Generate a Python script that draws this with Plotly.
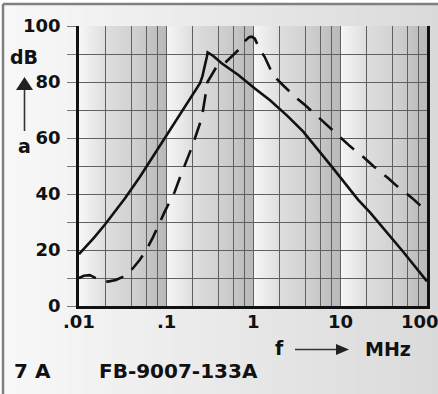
import numpy as np
import plotly.graph_objects as go

W, H = 438, 394

# ---------------- data ----------------
solid_f = [0.01, 0.015, 0.02, 0.0338, 0.05, 0.1, 0.165, 0.215, 0.246, 0.262, 0.28, 0.295, 0.301,
           0.35, 0.436, 0.678, 1.05, 1.57, 2.5, 3.78, 8.04, 16.1, 22.1, 53.5, 100]
solid_db = [18.5, 24.5, 29.2, 38.5, 46.1, 60.7, 71.2, 76.8, 79.6, 82.0, 85.5, 89.0, 90.6,
            89.3, 86.7, 82.5, 77.7, 73.5, 67.8, 62.3, 49.8, 38.0, 33.4, 19.3, 8.8]

dashed_f = [0.01, 0.0114, 0.0133, 0.0153, 0.0175, 0.0215, 0.0266, 0.035, 0.0417, 0.05,
            0.0593, 0.0707, 0.0846, 0.0967, 0.126, 0.145, 0.2, 0.257, 0.28, 0.30, 0.38,
            0.476, 0.71, 0.8, 0.9, 0.97, 1.05, 1.12, 1.2, 1.36, 1.7, 2.14, 3.18, 3.96,
            5.89, 7.34, 10.5, 13.0, 19.4, 24.1, 35.9, 44.8, 66.6, 100]
dashed_db = [10.0, 10.8, 11.0, 10.2, 9.2, 8.7, 9.3, 11.0, 13.5, 16.5,
             20.0, 24.5, 30.0, 33.7, 40.8, 46.0, 57.0, 67.0, 74.0, 80.0, 85.4,
             86.8, 92.0, 94.5, 96.0, 96.2, 95.5, 93.5, 91.5, 89.0, 82.5, 79.3, 74.2, 71.8,
             67.0, 64.3, 59.9, 57.1, 52.7, 50.0, 45.6, 42.9, 38.7, 33.7]

x_tick_vals = [0.01, 0.1, 1, 10, 100]
x_tick_text = [".01", ".1", "1", "10", "100"]
x_minor_mult = [2, 4, 6, 8]
y_tick_vals = [0, 20, 40, 60, 80, 100]
y_tick_text = ["0", "20", "40", "60", "80", "100"]

# ---------------- layout helpers ----------------
L, R, T, B = 79, 427, 26, 306


def px(x):
    return x / W


def py(y):
    return 1 - y / H


FONT = "DejaVu Sans"
INK = "#111111"
GRID = "#606060"

fig = go.Figure()
fig.add_trace(go.Scatter(x=solid_f, y=solid_db, mode="lines",
                         line=dict(color=INK, width=2.6), showlegend=False))
fig.add_trace(go.Scatter(x=dashed_f, y=dashed_db, mode="lines",
                         line=dict(color=INK, width=2.6, dash="18px,11px"), showlegend=False))

shapes = []
# page background gradient (inside the frame)
n = 80
x0p = 3
for i in range(n):
    a = x0p + (W - x0p) * i / n
    b = x0p + (W - x0p) * (i + 1) / n + 0.8
    t = i / (n - 1)
    v = int(round(248 - (248 - 218) * t))
    shapes.append(dict(type="rect", xref="paper", yref="paper", x0=px(a), x1=px(min(b, W)),
                       y0=0, y1=py(4), fillcolor=f"rgb({v},{v},{v})", line=dict(width=0),
                       layer="below"))

# per-decade shading of the plot area
ts = [0, 0.301, 0.602, 0.778, 0.903, 1.0]
vs = [247, 222, 210, 199, 189, 186]
ndec = 4
nstrip = 58
for d in range(ndec):
    for i in range(nstrip):
        t0 = i / nstrip
        t1 = (i + 1) / nstrip
        v = int(round(np.interp((t0 + t1) / 2, ts, vs)))
        shapes.append(dict(type="rect", xref="x domain", yref="y domain",
                           x0=(d + t0) / ndec, x1=min((d + t1) / ndec + 0.002, 1.0),
                           y0=0, y1=1, fillcolor=f"rgb({v},{v},{v})",
                           line=dict(width=0), layer="below"))

# outer frame (top + left)
shapes.append(dict(type="line", xref="paper", yref="paper", x0=px(3), x1=1, y0=py(4), y1=py(4),
                   line=dict(color="#808080", width=2.5), layer="above"))
shapes.append(dict(type="line", xref="paper", yref="paper", x0=px(3), x1=px(3), y0=0, y1=py(4),
                   line=dict(color="#808080", width=2.5), layer="above"))

# y arrow
shapes.append(dict(type="line", xref="paper", yref="paper", x0=px(24.5), x1=px(24.5),
                   y0=py(131), y1=py(88), line=dict(color="#333", width=1.6), layer="above"))
shapes.append(dict(type="path", xref="paper", yref="paper",
                   path=f"M {px(16)} {py(90)} L {px(33)} {py(90)} L {px(24.5)} {py(77)} Z",
                   fillcolor="#222", line=dict(width=0), layer="above"))
# x arrow
shapes.append(dict(type="line", xref="paper", yref="paper", x0=px(295), x1=px(338),
                   y0=py(349.5), y1=py(349.5), line=dict(color="#333", width=1.6), layer="above"))
shapes.append(dict(type="path", xref="paper", yref="paper",
                   path=f"M {px(336)} {py(344)} L {px(336)} {py(355)} L {px(349)} {py(349.5)} Z",
                   fillcolor="#222", line=dict(width=0), layer="above"))

annotations = []


def txt(s, x, y, size, anchor="center"):
    annotations.append(dict(text=s, x=px(x), y=py(y), xref="paper", yref="paper",
                            xanchor=anchor, yanchor="middle", showarrow=False,
                            font=dict(family=FONT, size=size, color=INK, weight="bold")))


txt("dB", 24, 57, 19)
txt("a", 24, 146, 19)
txt("f", 279, 348, 19)
txt("MHz", 388, 349, 19)
txt("7 A", 12, 371, 20, "left")
txt("FB-9007-133A", 97, 371, 20, "left")

# x tick labels
for v, s in zip(x_tick_vals, x_tick_text):
    shift = -7 if v == x_tick_vals[-1] else 0
    annotations.append(dict(text=s, x=np.log10(v), y=py(321), xref="x", yref="paper",
                            xanchor="center", yanchor="middle", xshift=shift, showarrow=False,
                            font=dict(family=FONT, size=18, color=INK, weight="bold")))

minor_vals = [m * 10.0 ** e for e in range(-2, 2) for m in x_minor_mult]

fig.update_layout(
    width=W, height=H, autosize=False,
    margin=dict(l=0, r=0, t=0, b=0, autoexpand=False),
    paper_bgcolor="white", plot_bgcolor="rgba(0,0,0,0)",
    showlegend=False,
    shapes=shapes, annotations=annotations,
    xaxis=dict(type="log", range=[-2, 2], domain=[px(L), px(R)], automargin=False,
               tickvals=x_tick_vals, showticklabels=False, ticks="",
               showgrid=True, gridcolor=GRID, gridwidth=1.3,
               minor=dict(tickvals=minor_vals, showgrid=True, gridcolor=GRID, gridwidth=1.3, ticks=""),
               showline=True, linecolor=INK, linewidth=2.6, mirror=False, zeroline=False),
    yaxis=dict(range=[0, 100], domain=[py(B), py(T)], automargin=False,
               tickvals=y_tick_vals, ticktext=y_tick_text,
               ticks="outside", ticklen=9, tickcolor="#777", tickwidth=1.2,
               ticklabelstandoff=3,
               tickfont=dict(family=FONT, size=18, color=INK, weight="bold"),
               showgrid=True, gridcolor=GRID, gridwidth=1.3,
               minor=dict(dtick=10, showgrid=True, gridcolor=GRID, gridwidth=1.3,
                          ticks="outside", ticklen=9, tickcolor="#777", tickwidth=1.2),
               showline=True, linecolor=INK, linewidth=2.6, mirror=True, zeroline=False),
)

fig.write_html(
    "out.html",
    config={"displayModeBar": False},
    post_script="document.documentElement.style.overflow='hidden';document.body.style.overflow='hidden';document.body.style.margin='0';",
)
